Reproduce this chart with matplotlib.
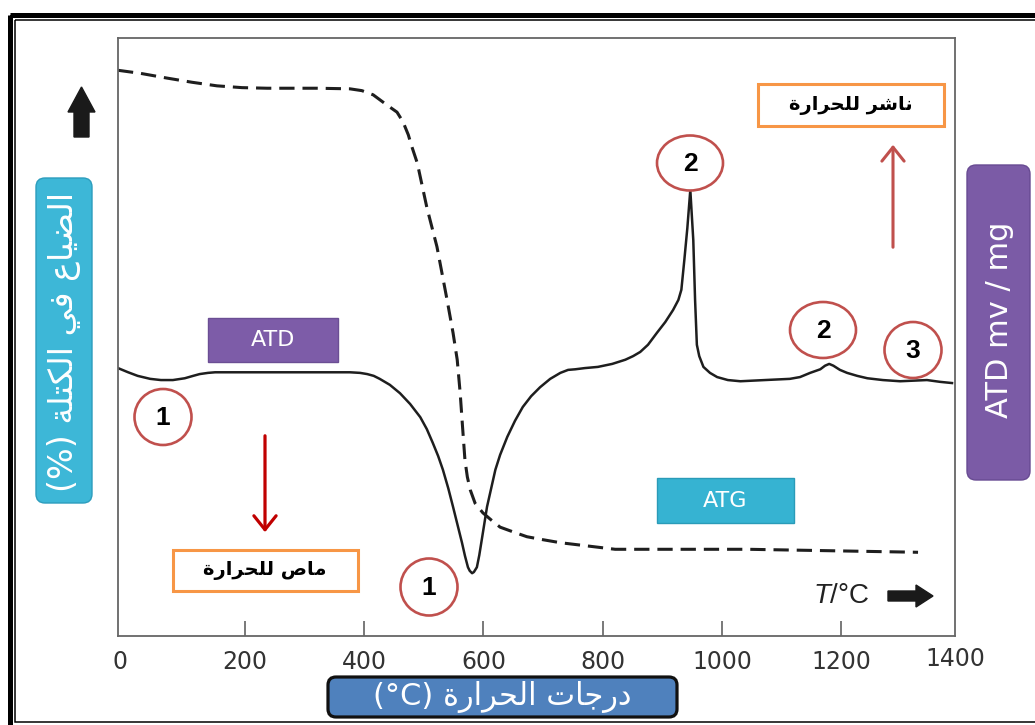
import matplotlib.pyplot as plt
from matplotlib.patches import FancyBboxPatch, Ellipse, Rectangle, FancyArrow

plt.rcParams['font.family'] = ['DejaVu Sans']
plt.rcParams['mathtext.fontset'] = 'custom'
plt.rcParams['mathtext.it'] = 'Liberation Sans:italic'
plt.rcParams['mathtext.rm'] = 'Liberation Sans'

# ATD (solid) : temperature in °C, signal in arbitrary units
atd_temp = [-13, 4, 20, 41, 59, 79, 99, 113, 124, 138, 150, 239, 376, 393, 405, 416,
            426, 443, 460, 477, 494, 505, 515, 524, 532, 541, 549, 557, 564, 569,
            574, 577, 581, 584, 589, 593, 598, 606, 613, 620, 628, 640, 653, 666,
            680, 695, 712, 729, 742, 754, 770, 792, 816, 838, 851, 863, 876, 891,
            905, 918, 927, 932, 937, 942, 947, 952, 955, 958, 962, 969, 980, 992,
            1010, 1031, 1072, 1114, 1131, 1148, 1165, 1173, 1180, 1187, 1198, 1210,
            1227, 1244, 1270, 1299, 1344, 1366, 1386]
atd_signal = [44.8, 44.1, 43.5, 43.0, 42.8, 42.8, 43.1, 43.5, 43.8, 44.0, 44.1, 44.1, 44.1,
              44.0, 43.8, 43.5, 43.0, 42.0, 40.6, 38.8, 36.6, 34.6, 32.3, 30.1, 27.8,
              24.7, 21.6, 18.4, 15.6, 13.4, 11.5, 10.9, 10.5, 10.7, 11.5, 13.5, 16.6,
              21.6, 24.7, 27.8, 30.3, 33.3, 36.0, 38.3, 40.1, 41.6, 43.0, 44.0, 44.5,
              44.6, 44.8, 45.0, 45.5, 46.2, 46.8, 47.5, 48.7, 50.7, 52.5, 54.5, 56.2,
              57.9, 62.9, 68.2, 74.6, 66.2, 56.2, 48.7, 46.8, 45.0, 44.0, 43.3, 42.8,
              42.6, 42.8, 43.0, 43.3, 44.0, 44.6, 45.2, 45.5, 45.2, 44.5, 44.0, 43.5,
              43.1, 42.8, 42.6, 42.8, 42.5, 42.3]

# ATG (dashed) : mass curve, same scale
atg_temp = [-13, 24, 69, 111, 153, 195, 237, 321, 376, 396, 415, 438, 455, 465, 474,
            479, 489, 497, 505, 514, 522, 539, 549, 556, 561, 565, 569, 573, 578, 586,
            599, 613, 628, 650, 673, 700, 729, 771, 821, 1044, 1329]
atg_mass = [94.6, 94.1, 93.3, 92.6, 92.0, 91.7, 91.6, 91.6, 91.5, 91.2, 90.5, 88.8, 87.6,
            86.0, 83.8, 82.1, 79.1, 75.4, 71.7, 68.2, 65.1, 56.2, 50.7, 46.2, 40.6,
            34.9, 29.4, 26.6, 24.4, 22.2, 20.6, 19.4, 18.2, 17.4, 16.6, 16.1, 15.6,
            15.1, 14.5, 14.5, 14.0]

tick_pos = [200, 400, 600, 800, 1000, 1200]
tick_lbl = ['200', '400', '600', '800', '1000', '1200']

# arabic letters -> (isolated, final, initial, medial) presentation forms
FORMS = {
    'ا': (0xFE8D, 0xFE8E, None, None),
    'د': (0xFEA9, 0xFEAA, None, None),
    'ر': (0xFEAD, 0xFEAE, None, None),
    'ة': (0xFE93, 0xFE94, None, None),
    'ل': (0xFEDD, 0xFEDE, 0xFEDF, 0xFEE0),
    'ض': (0xFEBD, 0xFEBE, 0xFEBF, 0xFEC0),
    'ي': (0xFEF1, 0xFEF2, 0xFEF3, 0xFEF4),
    'ع': (0xFEC9, 0xFECA, 0xFECB, 0xFECC),
    'ف': (0xFED1, 0xFED2, 0xFED3, 0xFED4),
    'ك': (0xFED9, 0xFEDA, 0xFEDB, 0xFEDC),
    'ت': (0xFE95, 0xFE96, 0xFE97, 0xFE98),
    'ج': (0xFE9D, 0xFE9E, 0xFE9F, 0xFEA0),
    'ح': (0xFEA1, 0xFEA2, 0xFEA3, 0xFEA4),
    'م': (0xFEE1, 0xFEE2, 0xFEE3, 0xFEE4),
    'ص': (0xFEB9, 0xFEBA, 0xFEBB, 0xFEBC),
    'ن': (0xFEE5, 0xFEE6, 0xFEE7, 0xFEE8),
    'ش': (0xFEB5, 0xFEB6, 0xFEB7, 0xFEB8),
}


def ar(s):
    # join letters and reverse for left-to-right drawing
    out = []
    for i, ch in enumerate(s):
        if ch not in FORMS:
            out.append(ch)
            continue
        prev = s[i - 1] if i > 0 else ''
        nxt = s[i + 1] if i + 1 < len(s) else ''
        iso, fin, ini, med = FORMS[ch]
        jp = prev in FORMS and FORMS[prev][2] is not None
        jn = ini is not None and nxt in FORMS
        if jp and jn:
            c = med
        elif jp:
            c = fin
        elif jn:
            c = ini
        else:
            c = iso
        out.append(chr(c))
    return ''.join(reversed(out))


fig = plt.figure(figsize=(10.35, 7.25), dpi=100)
W, H = 1035, 725

ax = fig.add_axes([118 / W, 1 - 636 / H, (955 - 118) / W, (636 - 38) / H])
ax.plot(atd_temp, atd_signal, color='#1e1e1e', lw=1.8, solid_joinstyle='round')
ax.plot(atg_temp, atg_mass, color='#1e1e1e', lw=2.2, dashes=(5, 2.6))
ax.set_xlim(-13, 1391)
ax.set_ylim(0, 100)
ax.set_yticks([])
ax.set_xticks(tick_pos)
ax.set_xticklabels(tick_lbl)
ax.tick_params(axis='x', direction='in', length=11, width=1.1, color='#555555',
               pad=10, labelsize=17, labelcolor='#333333')
for s in ax.spines.values():
    s.set_color('#666666')
    s.set_linewidth(1.3)
tr = ax.get_xaxis_transform()
ax.text(-10, -0.023, '0', transform=tr, ha='center', va='top', fontsize=17, color='#333333')
ax.text(1391, -0.018, '1400', transform=tr, ha='center', va='top', fontsize=17,
        color='#333333', clip_on=False)

# overlay in pixel units for labels, boxes and frame
ov = fig.add_axes([0, 0, 1, 1], zorder=5)
ov.set_xlim(0, W)
ov.set_ylim(H, 0)
ov.axis('off')
ov.patch.set_alpha(0)

ov.add_patch(Rectangle((9.5, 14.5), 1040, 720, fill=False, ec='black', lw=3.6))
ov.add_patch(Rectangle((15, 20), 1040, 701.5, fill=False, ec='black', lw=1.1))

# side boxes
ov.add_patch(FancyBboxPatch((36, 178), 56, 325, boxstyle='round,pad=0,rounding_size=9',
                            fc='#3DB7D7', ec='#2C9DBD', lw=1))
ov.text(64, 342, '(%) ' + ar('الضياع في الكتلة'), rotation=90, ha='center', va='center',
        color='white', fontsize=24)
ov.add_patch(FancyBboxPatch((967, 165), 63, 315, boxstyle='round,pad=0,rounding_size=9',
                            fc='#7B5BA6', ec='#684B92', lw=1))
ov.text(1000, 320, 'ATD mv / mg', rotation=90, ha='center', va='center',
        color='white', fontsize=22)
ov.add_patch(FancyBboxPatch((328, 677), 349, 40, boxstyle='round,pad=0,rounding_size=8',
                            fc='#4F81BD', ec='#111111', lw=2.3))
ov.text(502, 697, '(°C) ' + ar('درجات الحرارة'), ha='center', va='center',
        color='white', fontsize=22)

# curve name tags
ov.add_patch(Rectangle((208, 318), 130, 44, fc='#7D5CA8', ec='#6B4E94', lw=1))
ov.text(273, 340, 'ATD', ha='center', va='center', color='white', fontsize=16)
ov.add_patch(Rectangle((657, 478), 137, 45, fc='#36B3D2', ec='#2A9BB8', lw=1))
ov.text(725, 501, 'ATG', ha='center', va='center', color='white', fontsize=16)

# endo / exo labels
ov.add_patch(Rectangle((173, 550), 185, 41, fc='white', ec='#F79646', lw=2.2))
ov.text(265, 571, ar('ماص للحرارة'), ha='center', va='center', fontsize=14,
        fontweight='bold', color='black')
ov.add_patch(Rectangle((758, 84), 186, 42, fc='white', ec='#F79646', lw=2.2))
ov.text(851, 105, ar('ناشر للحرارة'), ha='center', va='center', fontsize=14,
        fontweight='bold', color='black')
ov.annotate('', xy=(265, 535), xytext=(265, 433),
            arrowprops=dict(arrowstyle='->,head_length=0.5,head_width=0.4',
                            mutation_scale=20, lw=2.3, color='#C00000'))
ov.annotate('', xy=(893, 142), xytext=(893, 250),
            arrowprops=dict(arrowstyle='->,head_length=0.5,head_width=0.4',
                            mutation_scale=20, lw=2.2, color='#C0504D'))

# numbered circles
for cx, cy, w, h, n in [(163, 417, 57, 56, '1'), (429, 587, 57, 57, '1'),
                        (690, 163, 66, 55, '2'), (823, 330, 66, 56, '2'),
                        (913, 350, 57, 56, '3')]:
    ov.add_patch(Ellipse((cx, cy), w, h, fc='white', ec='#C0504D', lw=1.9))
    ov.text(cx, cy + 1, n, ha='center', va='center', fontsize=19, fontweight='bold',
            family='Liberation Sans', color='black')

# axis arrows
ov.add_patch(FancyArrow(81.5, 137, 0, -50, width=15, head_width=27, head_length=25,
                        length_includes_head=True, color='#1a1a1a'))
ov.add_patch(FancyArrow(888, 596, 45, 0, width=10, head_width=22, head_length=17,
                        length_includes_head=True, color='#1a1a1a'))
ov.text(813, 596, r'$T$/°C', ha='left', va='center', fontsize=20,
        family='Liberation Sans', color='#222222')

plt.savefig('out.png', dpi=100)
